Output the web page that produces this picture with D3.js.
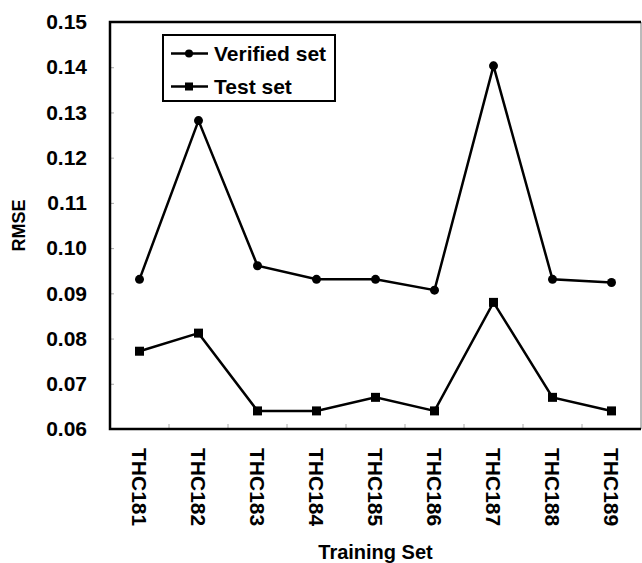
<!DOCTYPE html>
<html>
<head>
<meta charset="utf-8">
<script src="https://cdn.jsdelivr.net/npm/d3@7"></script>
<style>
  body { margin: 0; background: #fff; }
  text { font-family: "Liberation Sans", Arial, sans-serif; font-weight: bold; fill: #000; }
</style>
</head>
<body>
<svg id="chart" width="642" height="563"></svg>
<script>
const categories = ["THC181","THC182","THC183","THC184","THC185","THC186","THC187","THC188","THC189"];
const verifiedSet = [0.0931, 0.1282, 0.0961, 0.0931, 0.0931, 0.0907, 0.1403, 0.0931, 0.0924];
const testSet = [0.0772, 0.0812, 0.064, 0.064, 0.067, 0.064, 0.088, 0.067, 0.064];
const yTicks = [0.06, 0.07, 0.08, 0.09, 0.10, 0.11, 0.12, 0.13, 0.14, 0.15];
const seriesNames = ["Verified set", "Test set"];

const svg = d3.select("#chart");
const L = 110, R = 641, T = 22, B = 429;

const x = d3.scaleBand().domain(categories).range([L, R]).padding(0);
const y = d3.scaleLinear().domain([0.06, 0.15]).range([B, T]);
const cx = c => x(c) + x.bandwidth() / 2;

// plot border (thin right side)
svg.append("line").attr("x1", R).attr("x2", R).attr("y1", T).attr("y2", B)
  .attr("stroke", "#777").attr("stroke-width", 1);

// y axis
const yAxis = svg.append("g").attr("transform", `translate(${L},0)`)
  .call(d3.axisLeft(y).tickValues(yTicks).tickFormat(d3.format(".2f")).tickSizeInner(-4).tickSizeOuter(0).tickPadding(23));
yAxis.select(".domain").remove();
yAxis.selectAll(".tick line").attr("stroke", "#aaa").attr("stroke-width", 1);
yAxis.selectAll(".tick text").style("font-size", "21px").style("font-weight", "bold")
  .style("font-family", "'Liberation Sans', Arial, sans-serif").attr("fill", "#000");

// x boundary ticks
svg.append("g").selectAll("line").data(categories.slice(1)).join("line")
  .attr("x1", d => x(d)).attr("x2", d => x(d)).attr("y1", B).attr("y2", B - 5)
  .attr("stroke", "#aaa").attr("stroke-width", 1);

// x axis labels
const xAxis = svg.append("g").attr("transform", `translate(0,${B})`)
  .call(d3.axisBottom(x).tickSize(0).tickPadding(0));
xAxis.select(".domain").remove();
xAxis.selectAll(".tick text")
  .attr("transform", "translate(0,19) rotate(90)")
  .attr("text-anchor", "start").attr("dy", "0.35em").attr("y", 0).attr("x", 0)
  .style("font-size", "21px").style("font-weight", "bold")
  .style("font-family", "'Liberation Sans', Arial, sans-serif").attr("fill", "#000");

// axes frame lines (thick)
svg.append("path")
  .attr("d", `M${R},${T} L${L},${T} L${L},${B} L${R},${B}`)
  .attr("fill", "none").attr("stroke", "#000").attr("stroke-width", 2.5);

// series
const line = d3.line().x((d, i) => cx(categories[i])).y(d => y(d));
svg.append("path").datum(verifiedSet).attr("d", line)
  .attr("fill", "none").attr("stroke", "#000").attr("stroke-width", 2.5);
svg.append("path").datum(testSet).attr("d", line)
  .attr("fill", "none").attr("stroke", "#000").attr("stroke-width", 2.5);

svg.append("g").selectAll("circle").data(verifiedSet).join("circle")
  .attr("cx", (d, i) => cx(categories[i])).attr("cy", d => y(d)).attr("r", 4.5).attr("fill", "#000");
svg.append("g").selectAll("rect").data(testSet).join("rect")
  .attr("x", (d, i) => cx(categories[i]) - 4.5).attr("y", d => y(d) - 4.5)
  .attr("width", 9).attr("height", 9).attr("fill", "#000");

// legend
const lg = svg.append("g");
lg.append("rect").attr("x", 163).attr("y", 35).attr("width", 172).attr("height", 66)
  .attr("fill", "#fff").attr("stroke", "#000").attr("stroke-width", 2);
const rows = [53.5, 86.5];
seriesNames.forEach((name, i) => {
  lg.append("line").attr("x1", 171).attr("x2", 208).attr("y1", rows[i]).attr("y2", rows[i])
    .attr("stroke", "#000").attr("stroke-width", 2.5);
  if (i === 0) {
    lg.append("circle").attr("cx", 189).attr("cy", rows[i]).attr("r", 4).attr("fill", "#000");
  } else {
    lg.append("rect").attr("x", 185).attr("y", rows[i] - 4).attr("width", 8).attr("height", 8).attr("fill", "#000");
  }
  lg.append("text").attr("x", 214).attr("y", rows[i]).attr("dy", "0.35em")
    .style("font-size", "21px").text(name);
});

// axis titles
svg.append("text").attr("x", (L + R) / 2).attr("y", 559).attr("text-anchor", "middle")
  .style("font-size", "20px").text("Training Set");
svg.append("text").attr("transform", `translate(25,${(T + B) / 2}) rotate(-90)`)
  .attr("text-anchor", "middle").style("font-size", "18px").text("RMSE");
</script>
</body>
</html>
